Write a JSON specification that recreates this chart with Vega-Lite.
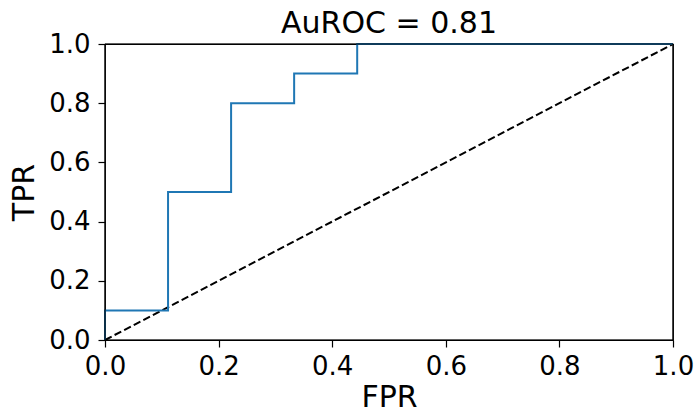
{
  "$schema": "https://vega.github.io/schema/vega-lite/v6.json",
  "width": 568,
  "height": 296,
  "autosize": {"type": "none"},
  "padding": {"left": 105, "top": 44, "right": 21, "bottom": 73},
  "background": "white",
  "title": {"text": "AuROC = 0.81", "font": "DejaVu Sans", "fontSize": 30, "fontWeight": "normal", "color": "black", "offset": -8, "frame": "group"},
  "config": {
    "view": {"stroke": "black", "strokeWidth": 1.2},
    "axis": {
      "labelFont": "DejaVu Sans", "labelFontSize": 26, "labelColor": "black",
      "titleFont": "DejaVu Sans", "titleFontSize": 30, "titleFontWeight": "normal", "titleColor": "black",
      "grid": false, "domain": false, "tickColor": "black", "tickSize": 7, "tickWidth": 1.2,
      "labelFlush": false, "labelOverlap": false
    }
  },
  "datasets": {
    "roc": [
      {"i": 0, "fpr": 0, "tpr": 0},
      {"i": 1, "fpr": 0, "tpr": 0.1},
      {"i": 2, "fpr": 0.111, "tpr": 0.1},
      {"i": 3, "fpr": 0.111, "tpr": 0.5},
      {"i": 4, "fpr": 0.222, "tpr": 0.5},
      {"i": 5, "fpr": 0.222, "tpr": 0.8},
      {"i": 6, "fpr": 0.333, "tpr": 0.8},
      {"i": 7, "fpr": 0.333, "tpr": 0.9},
      {"i": 8, "fpr": 0.444, "tpr": 0.9},
      {"i": 9, "fpr": 0.444, "tpr": 1.0},
      {"i": 10, "fpr": 1.0, "tpr": 1.0}
    ],
    "diag": [
      {"i": 0, "fpr": 0, "tpr": 0},
      {"i": 1, "fpr": 1, "tpr": 1}
    ],
    "frame": [
      {"x": 0, "x2": 0, "y": 0, "y2": 1},
      {"x": 1, "x2": 1, "y": 0, "y2": 1},
      {"x": 0, "x2": 1, "y": 0, "y2": 0},
      {"x": 0, "x2": 1, "y": 1, "y2": 1}
    ]
  },
  "layer": [
    {
      "data": {"name": "diag"},
      "mark": {"type": "line", "color": "black", "strokeWidth": 2, "strokeDash": [7.5, 3.3]},
      "encoding": {
        "x": {"field": "fpr", "type": "quantitative", "scale": {"domain": [0, 1]}, "axis": {"title": "FPR", "format": ".1f", "values": [0, 0.2, 0.4, 0.6, 0.8, 1.0], "labelPadding": 6, "titlePadding": 3}},
        "y": {"field": "tpr", "type": "quantitative", "scale": {"domain": [0, 1]}, "axis": {"title": "TPR", "format": ".1f", "values": [0, 0.2, 0.4, 0.6, 0.8, 1.0], "labelPadding": 8, "titlePadding": 9}},
        "order": {"field": "i"}
      }
    },
    {
      "data": {"name": "roc"},
      "mark": {"type": "line", "color": "#1f77b4", "strokeWidth": 2},
      "encoding": {
        "x": {"field": "fpr", "type": "quantitative"},
        "y": {"field": "tpr", "type": "quantitative"},
        "order": {"field": "i"}
      }
    },
    {
      "data": {"name": "frame"},
      "mark": {"type": "rule", "color": "black", "strokeWidth": 1.2},
      "encoding": {
        "x": {"field": "x", "type": "quantitative"},
        "x2": {"field": "x2"},
        "y": {"field": "y", "type": "quantitative"},
        "y2": {"field": "y2"}
      }
    }
  ]
}
